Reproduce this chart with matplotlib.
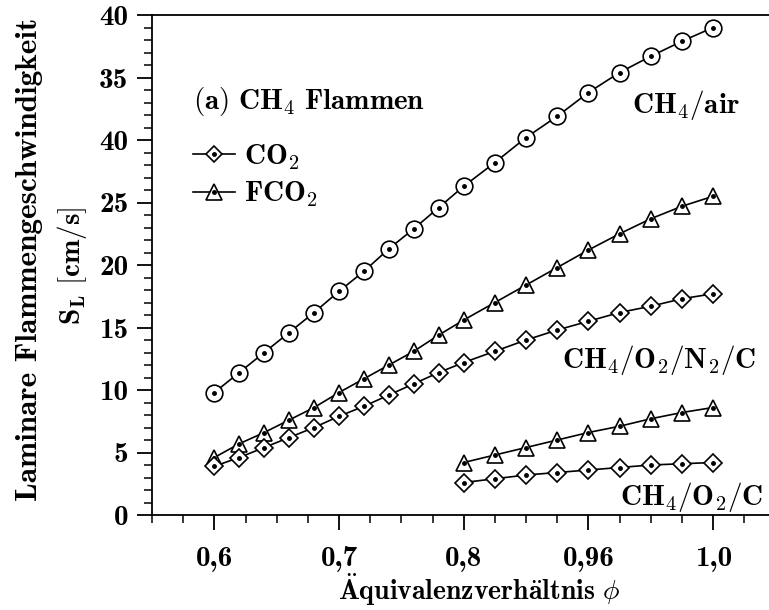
import matplotlib
matplotlib.use("Agg")
import matplotlib.pyplot as plt
from matplotlib.ticker import FixedLocator, MultipleLocator

plt.rcParams["mathtext.fontset"] = "cm"
plt.rcParams["font.family"] = ["cmb10", "DejaVu Serif"]

# equivalence ratio: 0.02 steps up to 0.8, then 0.025 steps
phi_full = [0.60, 0.62, 0.64, 0.66, 0.68, 0.70, 0.72, 0.74, 0.76, 0.78, 0.80,
            0.825, 0.85, 0.875, 0.90, 0.925, 0.95, 0.975, 1.00]
phi_rich = [0.80, 0.825, 0.85, 0.875, 0.90, 0.925, 0.95, 0.975, 1.00]

# CH4/air
sl_air = [9.8, 11.4, 13.0, 14.6, 16.2, 17.9, 19.5, 21.3, 22.9, 24.6, 26.3,
          28.2, 30.2, 31.9, 33.8, 35.4, 36.7, 37.9, 39.0]
# CH4/O2/N2/C
sl_n2_fco2 = [4.6, 5.7, 6.6, 7.6, 8.6, 9.8, 10.9, 12.0, 13.1, 14.4, 15.6,
              17.0, 18.4, 19.8, 21.2, 22.5, 23.7, 24.7, 25.5]
sl_n2_co2 = [3.9, 4.6, 5.4, 6.2, 7.0, 7.9, 8.7, 9.6, 10.5, 11.4, 12.2,
             13.1, 14.0, 14.8, 15.5, 16.2, 16.7, 17.3, 17.7]
# CH4/O2/C
sl_o2_fco2 = [4.2, 4.8, 5.4, 6.0, 6.6, 7.1, 7.7, 8.2, 8.6]
sl_o2_co2 = [2.6, 2.9, 3.2, 3.4, 3.6, 3.8, 4.0, 4.1, 4.2]

xticks = [0.6, 0.7, 0.8, 0.9, 1.0]
xtick_labels = ["0,6", "0,7", "0,8", "0,96", "1,0"]
yticks = [0, 5, 10, 15, 20, 25, 30, 35, 40]
ytick_labels = ["0", "5", "10", "15", "20", "25", "40", "35", "40"]

FS = 21

fig = plt.figure(figsize=(7.69, 6.10), dpi=100)
ax = fig.add_axes([152 / 769, 95 / 610, 1 - 152 / 769, 500 / 610])


def series(x, y, marker, ms):
    ax.plot(x, y, color="black", lw=1.2, marker=marker, ms=ms,
            mfc="white", mec="black", mew=1.2)
    ax.plot(x, y, ls="none", marker="o", ms=2.5, color="black")


series(phi_full, sl_air, "o", 12)
series(phi_full, sl_n2_fco2, "^", 12)
series(phi_full, sl_n2_co2, "D", 9)
series(phi_rich, sl_o2_fco2, "^", 12)
series(phi_rich, sl_o2_co2, "D", 9)

ax.set_xlim(0.55, 1.0448)
ax.set_ylim(0, 40)
ax.spines["right"].set_visible(False)
for s in ax.spines.values():
    s.set_linewidth(1.3)

ax.xaxis.set_major_locator(FixedLocator(xticks))
ax.set_xticklabels(xtick_labels)
ax.xaxis.set_minor_locator(MultipleLocator(0.025))
ax.yaxis.set_major_locator(FixedLocator(yticks))
ax.set_yticklabels(ytick_labels)
ax.yaxis.set_minor_locator(MultipleLocator(1))
ax.tick_params(which="major", direction="out", length=11, width=1.3,
               labelsize=FS, top=False, right=False)
ax.tick_params(which="minor", direction="out", length=6, width=1.1,
               top=False, right=False)
ax.tick_params(axis="x", which="major", pad=11)
ax.tick_params(axis="y", which="major", pad=6)

# in-plot labels
ax.text((193 - 152) / 617, 1 - 87 / 500, r"$\mathbf{(a)\ CH_4\ Flammen}$",
        transform=ax.transAxes, fontsize=FS, va="center", ha="left")
ax.text((740 - 152) / 617, 1 - 90 / 500, r"$\mathbf{CH_4/air}$",
        transform=ax.transAxes, fontsize=FS, va="center", ha="right")
ax.text((756 - 152) / 617, 1 - 345 / 500, r"$\mathbf{CH_4/O_2/N_2/C}$",
        transform=ax.transAxes, fontsize=FS, va="center", ha="right")
ax.text((763 - 152) / 617, 1 - 482 / 500, r"$\mathbf{CH_4/O_2/C}$",
        transform=ax.transAxes, fontsize=FS, va="center", ha="right")

# legend
h_co2 = (plt.Line2D([], [], color="black", lw=1.2, marker="D", ms=8,
                    mfc="white", mec="black", mew=1.2),
         plt.Line2D([], [], ls="none", marker="o", ms=2.5, color="black"))
h_fco2 = (plt.Line2D([], [], color="black", lw=1.2, marker="^", ms=11,
                     mfc="white", mec="black", mew=1.2),
          plt.Line2D([], [], ls="none", marker="o", ms=2.5, color="black"))
ax.legend([h_co2, h_fco2], [r"$\mathbf{CO_2}$", r"$\mathbf{FCO_2}$"],
          loc="center left", bbox_to_anchor=((193 - 152) / 617, 1 - 161 / 500),
          frameon=False, fontsize=FS, handlelength=1.45, handletextpad=0.3,
          labelspacing=0.3, borderpad=0, borderaxespad=0)

# axis titles
fig.text(479 / 769, 10 / 610, r"$\mathbf{\ddot{A}quivalenzverh\ddot{a}ltnis}\ \phi$",
         fontsize=20, ha="center", va="baseline")
fig.text(30 / 769, 1 - 259 / 610, "Laminare Flammengeschwindigkeit",
         fontsize=22.5, rotation=90, ha="center", va="center")
fig.text(72 / 769, 1 - 266 / 610, r"$\mathbf{S_L\ [cm/s]}$",
         fontsize=FS, rotation=90, ha="center", va="center")

fig.savefig("out.png", dpi=100)
